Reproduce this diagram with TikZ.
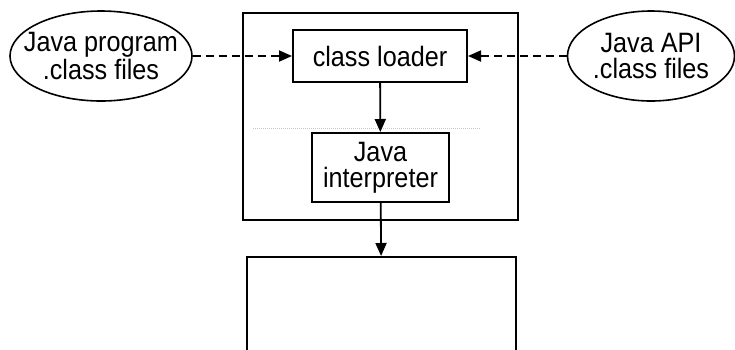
\documentclass[tikz,border=0pt]{standalone}
\usepackage{fontspec}
\setmainfont[FakeStretch=0.9]{Liberation Sans}
\usetikzlibrary{shapes.geometric,arrows.meta}
\tikzstyle{block}=[draw,rectangle,line width=2pt,align=center]
\tikzstyle{classfile}=[draw,ellipse,line width=1.6pt,align=center,inner xsep=-14pt,inner ysep=0pt,minimum height=90pt]

\begin{document}
\begin{tikzpicture}[x=1pt,y=-1pt,font=\fontsize{28}{26}\selectfont]
\tikzstyle{flow}=[line width=1.8pt,-{Triangle[length=13pt,width=11pt]}]
\tikzstyle{load}=[flow,dash pattern=on 8pt off 5pt]
  \useasboundingbox (0,0) rectangle (735,349);
  \clip (0,0) rectangle (735,349);
  % the virtual machine and what it runs on
  \node[block,line width=2.4pt,minimum width=275pt,minimum height=207pt] (jvm) at (380.5,116.5) {};
  \node[block,line width=2.4pt,minimum width=269pt,minimum height=120pt,anchor=north] (host) at (381.5,256) {};
  \draw[gray!45,densely dotted,line width=1pt] (253,128) -- (480,128);
  \node[block,minimum width=174pt,minimum height=52pt] (loader) at (380,56) {class loader};
  \node[block,minimum width=137pt,minimum height=69pt] (interp) at (380.5,167.5) {Java\\interpreter};
  \node[classfile,minimum width=182pt] (progfiles) at (101,56) {Java program\\.class files};
  \node[classfile,minimum width=167pt] (apifiles) at (651,56) {Java API\\.class files};
  \foreach \source/\dest in {progfiles/loader,apifiles/loader}
      \draw[load] (\source) -- (\dest);
  \foreach \source/\dest in {loader/interp,interp/host}
      \draw[flow] (\source) -- (\dest);
\end{tikzpicture}
\end{document}
